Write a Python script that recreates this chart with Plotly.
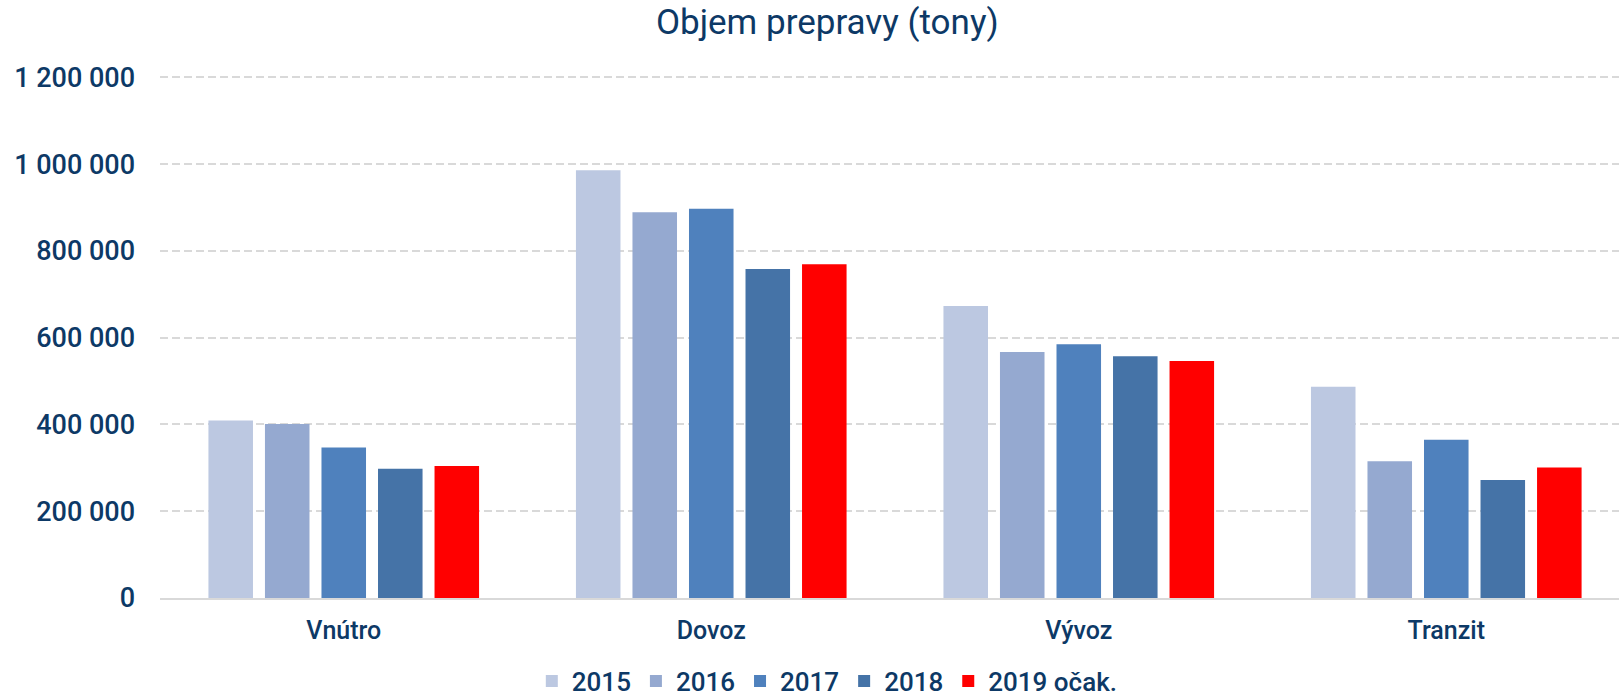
import plotly.graph_objects as go

categories = ["Vnútro", "Dovoz", "Vývoz", "Tranzit"]
series_names = ["2015", "2016", "2017", "2018", "2019 očak."]
v2015 = [409000, 986000, 673000, 487000]
v2016 = [401000, 889000, 567000, 315000]
v2017 = [347000, 897000, 585000, 365000]
v2018 = [298000, 758000, 557000, 272000]
v2019 = [304000, 769000, 546000, 301000]
colors = ["#BCC8E1", "#95A9D0", "#4F81BD", "#4573A7", "#FF0000"]
ytick_vals = [0, 200000, 400000, 600000, 800000, 1000000, 1200000]
ytick_text = ["0", "200 000", "400 000", "600 000", "800 000", "1 000 000", "1 200 000"]

series_values = [v2015, v2016, v2017, v2018, v2019]
TXT = "#0d3966"
FONT = "Roboto"
W = 500

fig = go.Figure()
for name, vals, col in zip(series_names, series_values, colors):
    fig.add_trace(go.Bar(x=categories, y=vals, name=name, marker_color=col,
                         marker_line_width=0))

fig.update_layout(
    width=1619, height=696,
    paper_bgcolor="white", plot_bgcolor="white",
    margin=dict(l=160, r=0, t=73, b=98, autoexpand=False),
    barmode="group", bargap=0.231, bargroupgap=0.212,
    font=dict(family=FONT, color=TXT, weight=W),
    title=dict(text="Objem prepravy (tony)", x=0.511, xanchor="center",
               y=1 - 22 / 696, yanchor="middle", yref="container",
               font=dict(size=35, color=TXT, family=FONT, weight=400)),
    legend=dict(orientation="h", x=0.511, xanchor="center", xref="container",
                y=1 - 681 / 696, yanchor="middle", yref="container",
                font=dict(size=26, color=TXT, family=FONT, weight=W),
                itemwidth=30, traceorder="normal"),
    showlegend=True,
)
fig.update_xaxes(range=[-0.5, 3.47], showgrid=False, showline=True,
                 linecolor="#d9d9d9", linewidth=2, ticks="", automargin=False,
                 tickfont=dict(size=25, color=TXT, family=FONT, weight=W),
                 ticklabelstandoff=9)
fig.update_yaxes(range=[0, 1210000], tickvals=ytick_vals, ticktext=ytick_text,
                 showgrid=True, gridcolor="#d9d9d9", gridwidth=2,
                 griddash="8px,4px", zeroline=False, showline=False,
                 automargin=False,
                 tickfont=dict(size=27, color=TXT, family=FONT, weight=W),
                 ticks="", ticklabelstandoff=24)

fig.write_html("out.html", config={"displayModeBar": False},
               post_script="document.body.style.margin='0';document.body.style.overflow='hidden';")
